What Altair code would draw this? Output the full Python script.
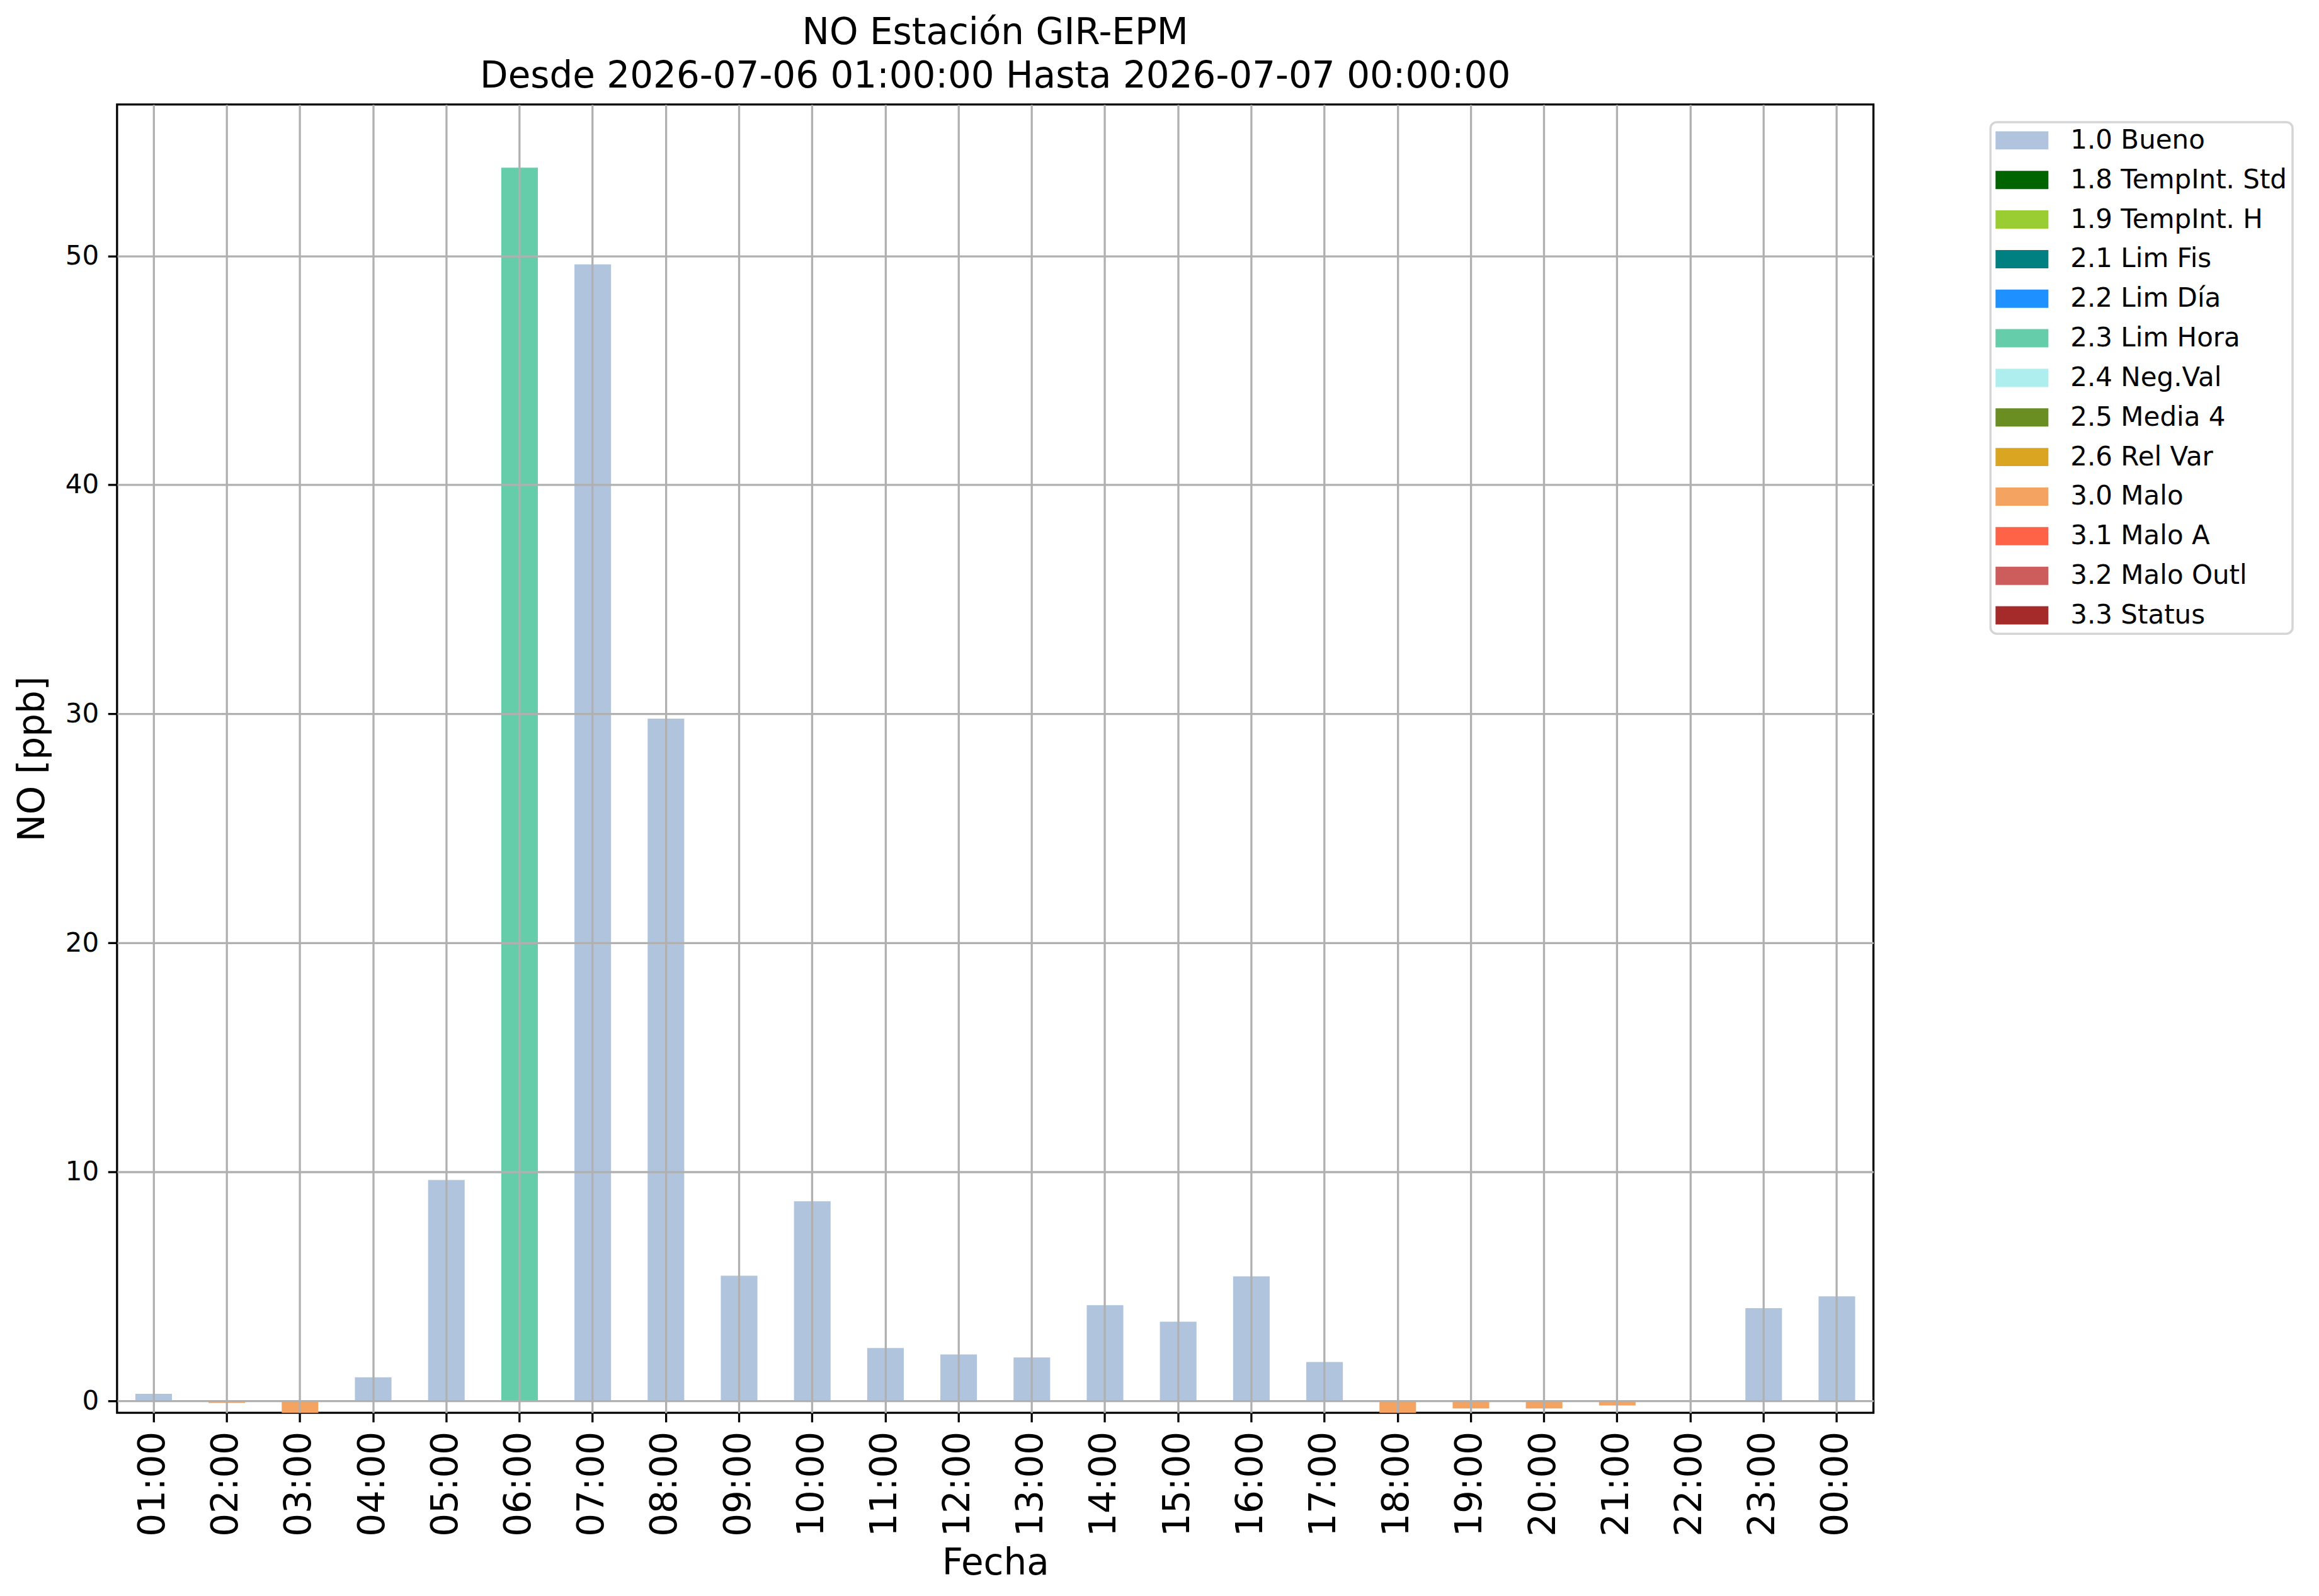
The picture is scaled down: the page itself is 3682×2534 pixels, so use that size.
import altair as alt
import pandas as pd

hours = ["01:00", "02:00", "03:00", "04:00", "05:00", "06:00", "07:00", "08:00",
         "09:00", "10:00", "11:00", "12:00", "13:00", "14:00", "15:00", "16:00",
         "17:00", "18:00", "19:00", "20:00", "21:00", "22:00", "23:00", "00:00"]
values = [0.31, -0.09, -0.52, 1.03, 9.65, 53.85, 49.63, 29.79,
          5.47, 8.72, 2.31, 2.03, 1.90, 4.18, 3.46, 5.44,
          1.70, -0.52, -0.33, -0.33, -0.20, None, 4.05, 4.57]
flags = ["1.0 Bueno", "3.0 Malo", "3.0 Malo", "1.0 Bueno", "1.0 Bueno", "2.3 Lim Hora",
         "1.0 Bueno", "1.0 Bueno", "1.0 Bueno", "1.0 Bueno", "1.0 Bueno", "1.0 Bueno",
         "1.0 Bueno", "1.0 Bueno", "1.0 Bueno", "1.0 Bueno", "1.0 Bueno", "3.0 Malo",
         "3.0 Malo", "3.0 Malo", "3.0 Malo", None, "1.0 Bueno", "1.0 Bueno"]

flag_names = ["1.0 Bueno", "1.8 TempInt. Std", "1.9 TempInt. H", "2.1 Lim Fis",
              "2.2 Lim Día", "2.3 Lim Hora", "2.4 Neg.Val", "2.5 Media 4",
              "2.6 Rel Var", "3.0 Malo", "3.1 Malo A", "3.2 Malo Outl", "3.3 Status"]
flag_colors = ["#B0C4DE", "#006400", "#9ACD32", "#008080", "#1E90FF", "#66CDAA",
               "#AFEEEE", "#6B8E23", "#DAA520", "#F4A460", "#FF6347", "#CD5C5C",
               "#A52A2A"]

y_ticks = [0, 10, 20, 30, 40, 50]

df = pd.DataFrame({"Fecha": hours, "NO": values, "Flag": flags})

FONT = "DejaVu Sans"
LW = 3.3
GRID = "#b0b0b0"

chart = alt.Chart(df).mark_bar().encode(
    x=alt.X("Fecha:N", sort=hours,
            scale=alt.Scale(domain=hours, paddingInner=0.5, paddingOuter=0.25),
            axis=alt.Axis(title="Fecha", labelAngle=270, grid=True, gridColor=GRID,
                          gridWidth=LW, domain=False, ticks=True, tickColor="black",
                          tickWidth=LW, tickSize=14.6, labelPadding=14.6,
                          labelFontSize=58, labelFont=FONT, labelColor="black",
                          titleFont=FONT, titleFontSize=58, titleFontWeight="normal",
                          titleColor="black", titlePadding=14, bandPosition=0.5,
                          zindex=1)),
    y=alt.Y("NO:Q",
            scale=alt.Scale(domain=[-0.52, 56.61], nice=False, zero=False),
            axis=alt.Axis(title="NO [ppb]", values=y_ticks, format="d", grid=True,
                          gridColor=GRID, gridWidth=LW, domain=False, tickColor="black",
                          tickWidth=LW, tickSize=14.6, labelPadding=14.6,
                          labelFontSize=42, labelFont=FONT, labelColor="black",
                          titleFont=FONT, titleFontSize=58, titleFontWeight="normal",
                          titleColor="black", titlePadding=22, zindex=1)),
    color=alt.Color("Flag:N",
                    scale=alt.Scale(domain=flag_names, range=flag_colors),
                    legend=alt.Legend(title=None, orient="none", legendX=2977, legendY=28,
                                      symbolType="M-2,-0.69H2V0.69H-2Z",
                                      symbolSize=1764, symbolStrokeWidth=0,
                                      symbolOffset=21,
                                      symbolOpacity=1, labelFont=FONT,
                                      labelFontSize=42, labelColor="black",
                                      labelOffset=56, rowPadding=20.9, padding=8,
                                      strokeColor="#d5d5d5",
                                      cornerRadius=10, fillColor="white",
                                      labelLimit=1000)),
).properties(
    width=2791,
    height=2079,
    title=alt.TitleParams(
        text=["NO Estación GIR-EPM",
              "Desde 2026-07-06 01:00:00 Hasta 2026-07-07 00:00:00"],
        font=FONT, fontSize=58, fontWeight="normal", color="black",
        anchor="middle", frame="group", lineHeight=69, baseline="bottom", offset=-43),
    padding={"left": 178, "top": 157, "right": 700, "bottom": 290},
    autosize=alt.AutoSizeParams(type="none"),
).configure(
    background="white"
).configure_view(
    stroke="black", strokeWidth=LW
).configure_legend(
    strokeWidth=3.5
)

chart.save("out.html", embed_options={"renderer": "svg", "actions": False})
